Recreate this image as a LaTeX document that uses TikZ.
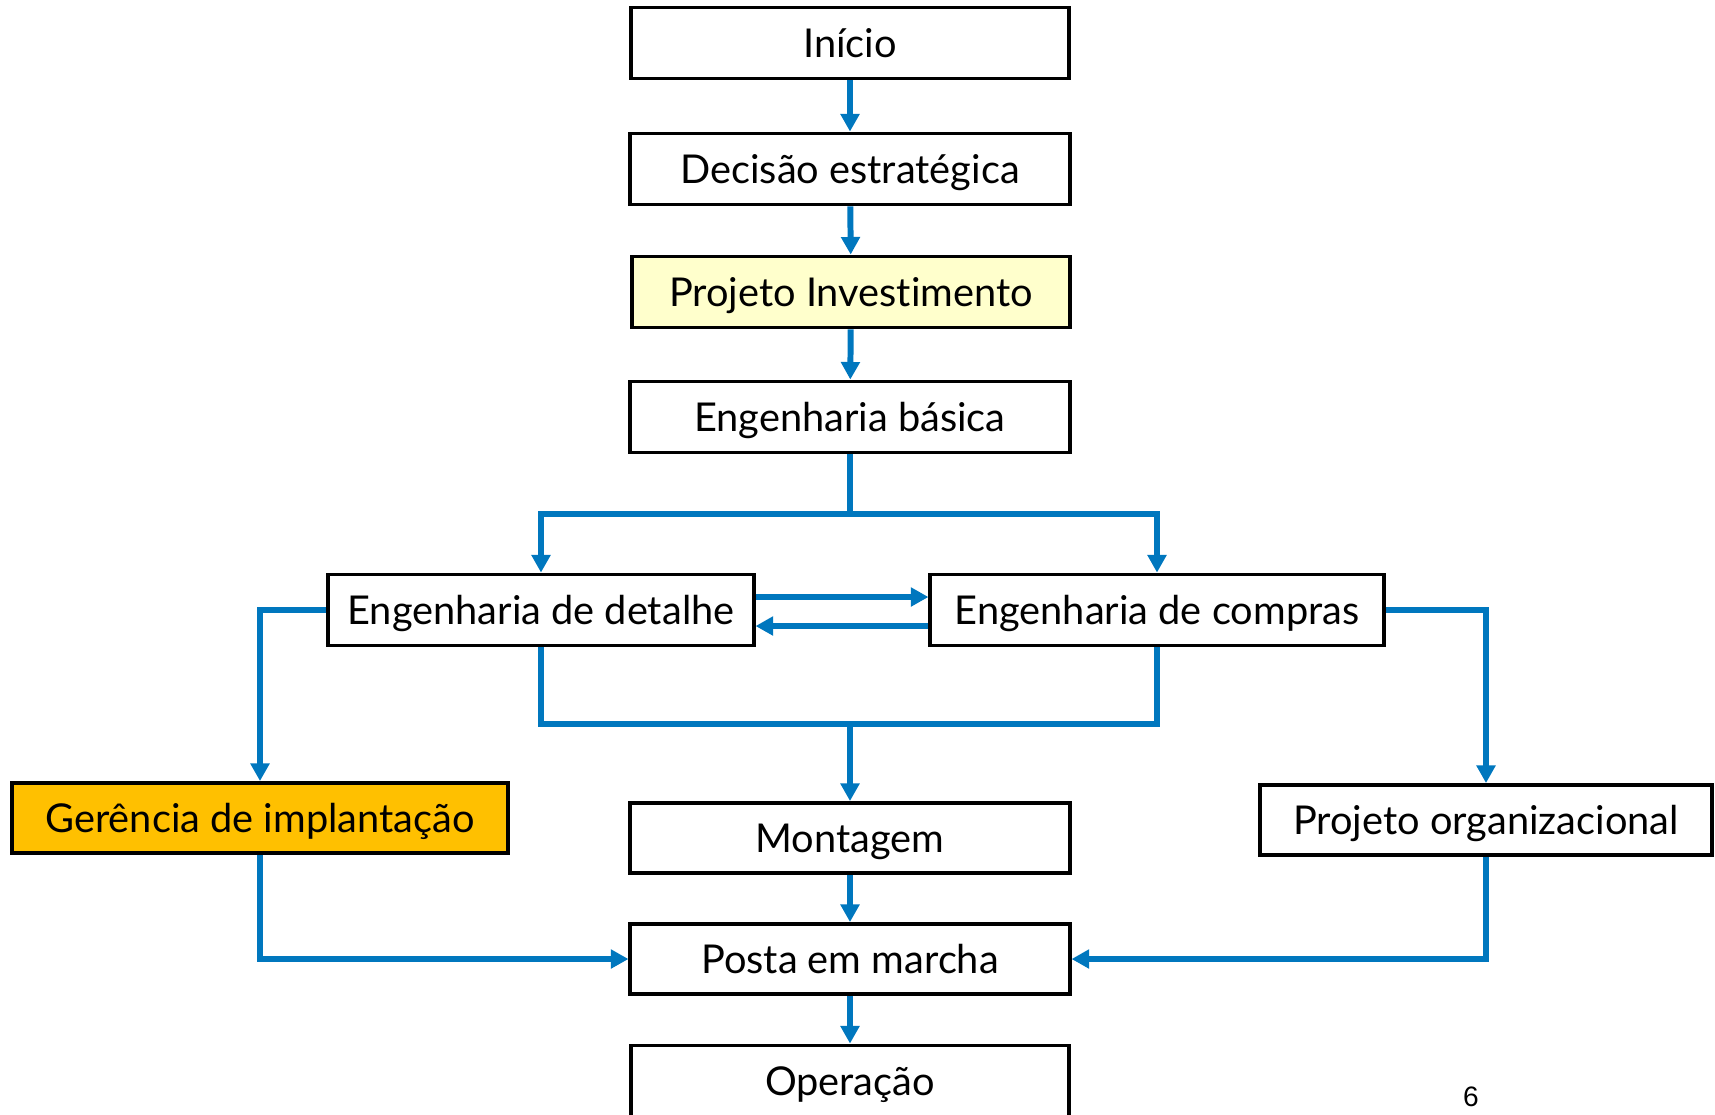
\documentclass[tikz,border=0pt]{standalone}
\usepackage{fontspec}
\setmainfont{Lato}[Ligatures=NoCommon]
\newfontfamily\numfont{Liberation Sans}
\usepackage{xcolor}
\usepackage{tikz}
\usetikzlibrary{arrows.meta,positioning,calc}

\definecolor{flowblue}{HTML}{0077BE}
\definecolor{paleyellow}{HTML}{FFFFCC}
\definecolor{goldbox}{HTML}{FFC000}

\begin{document}
\begin{tikzpicture}[x=0.01cm, y=-0.01cm,
    stage/.style={draw=black, line width=1.1pt, fill=white, minimum height=0.71cm, inner sep=0pt, text height=0.33cm, text depth=0.04cm, font=\fontsize{11.3}{13}\selectfont},
    flow/.style={draw=flowblue, line width=1.7pt},
    >={Triangle[length=5pt, width=5.2pt]}]
    \useasboundingbox (0,0) rectangle (1715,1114);

    % Main column
    \node[stage, minimum width=4.37cm] (inicio) at (850,43) {Início};
    \node[stage, minimum width=4.39cm] (decisao) at (850,169) {Decisão estratégica};
    \node[stage, minimum width=4.38cm, fill=paleyellow] (projinv) at (851,292) {Projeto Investimento};
    \node[stage, minimum width=4.40cm] (engbas) at (850,417) {Engenharia básica};

    % Engineering branches
    \node[stage, minimum width=4.25cm] (engdet) at (541,610) {Engenharia de detalhe};
    \node[stage, minimum width=4.53cm] (engcomp) at (1157,610) {Engenharia de compras};

    \node[stage, minimum width=4.96cm, minimum height=0.70cm, fill=goldbox] (gerencia) at (260,818) {Gerência de implantação};
    \node[stage, minimum width=4.39cm, minimum height=0.70cm] (montagem) at (850,838) {Montagem};
    \node[stage, minimum width=4.52cm, minimum height=0.70cm] (projorg) at (1486,820) {Projeto organizacional};
    \node[stage, minimum width=4.39cm, minimum height=0.70cm] (posta) at (850,959) {Posta em marcha};
    \node[stage, minimum width=4.37cm] (operacao) at (850,1081) {Operação};

    \node[font=\numfont\fontsize{8}{9}\selectfont] (pagenum) at (1471,1097) {6};

    % Connectors
    \draw[flow, ->] (inicio) -- (decisao);
    \draw[flow, ->] (decisao) -- (projinv);
    \draw[flow, ->] (projinv) -- (engbas);

    \coordinate (split) at (850,514);
    \coordinate (merge) at (850,724);
    \draw[flow] (engbas.south) -- (split);
    \draw[flow, ->] (split) -| (engdet.north);
    \draw[flow, ->] (split) -| (engcomp.north);

    \draw[flow, ->] ([yshift=0.13cm]engdet.east) -- ([yshift=0.13cm]engcomp.west);
    \draw[flow, ->] ([yshift=-0.16cm]engcomp.west) -- ([yshift=-0.16cm]engdet.east);

    \draw[flow] (engdet.south) |- (merge) -| (engcomp.south);
    \draw[flow, ->] (merge) -- (montagem.north);

    \draw[flow, ->] (engdet.west) -| (gerencia.north);
    \draw[flow, ->] (engcomp.east) -| (projorg.north);
    \draw[flow, ->] (gerencia.south) |- (posta.west);
    \draw[flow, ->] (projorg.south) |- (posta.east);

    \draw[flow, ->] (montagem) -- (posta);
    \draw[flow, ->] (posta) -- (operacao);
\end{tikzpicture}
\end{document}
